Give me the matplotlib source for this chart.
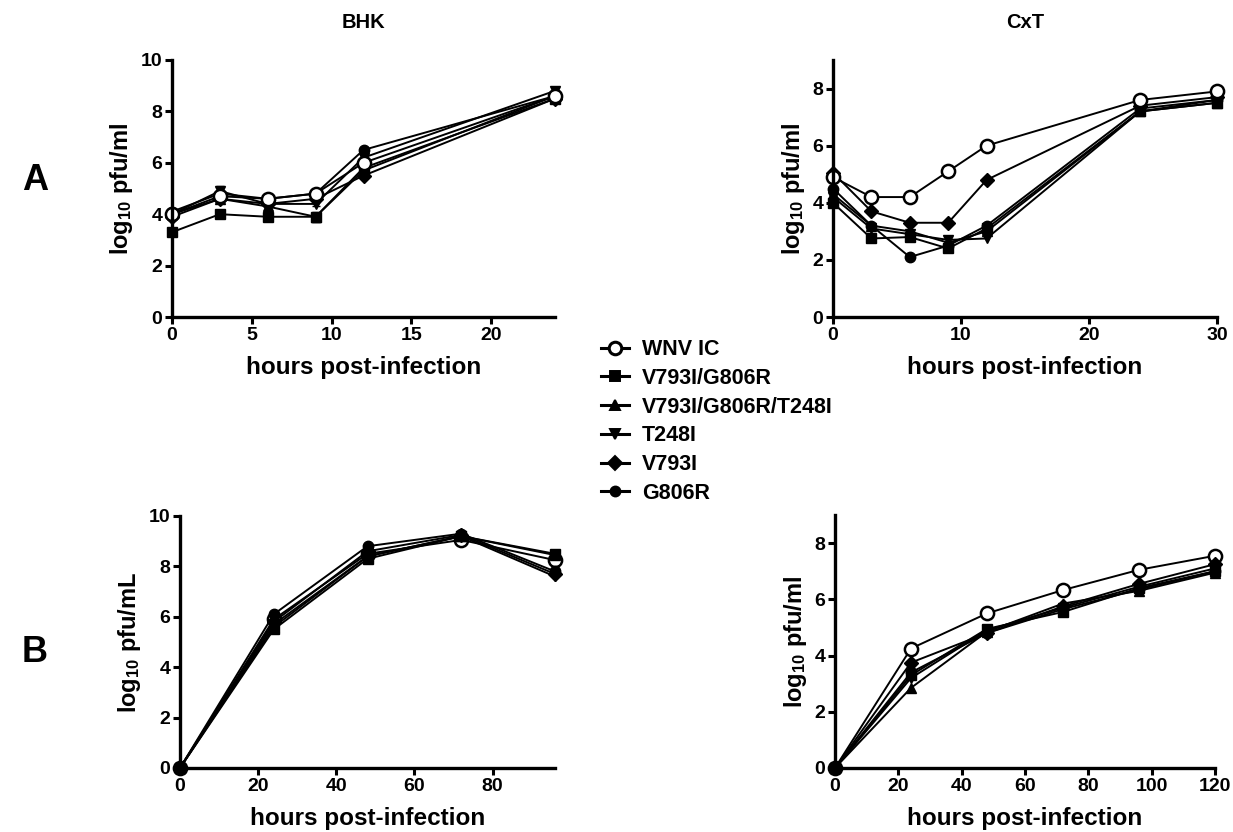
import matplotlib
matplotlib.use("Agg")
import matplotlib.pyplot as plt
from matplotlib.lines import Line2D

plt.rcParams['font.family'] = ['Liberation Sans', 'DejaVu Sans']
plt.rcParams['font.weight'] = 'bold'
plt.rcParams['mathtext.fontset'] = 'custom'
plt.rcParams['mathtext.rm'] = 'Liberation Sans:bold'
plt.rcParams['mathtext.it'] = 'Liberation Sans:bold'
plt.rcParams['mathtext.bf'] = 'Liberation Sans:bold'
plt.rcParams['mathtext.default'] = 'rm'

# ---------------- data ----------------
series_names = ["WNV IC", "V793I/G806R", "V793I/G806R/T248I", "T248I", "V793I", "G806R"]

# A, BHK
t_a_bhk = [0, 3, 6, 9, 12, 24]
a_bhk = {
    "WNV IC":            [4.0, 4.7, 4.6, 4.8, 6.0, 8.6],
    "V793I/G806R":       [3.3, 4.0, 3.9, 3.9, 5.8, 8.5],
    "V793I/G806R/T248I": [4.0, 4.6, 4.3, 3.9, 5.7, 8.6],
    "T248I":             [4.0, 4.9, 4.4, 4.4, 6.2, 8.8],
    "V793I":             [3.9, 4.6, 4.4, 4.6, 5.5, 8.5],
    "G806R":             [4.1, 4.8, 4.6, 4.8, 6.5, 8.6],
}
a_bhk_err = {
    "WNV IC":            [0.1, 0.1, 0.1, 0.1, 0.1, 0.1],
    "V793I/G806R":       [0.05, 0.05, 0.05, 0.05, 0.1, 0.1],
    "V793I/G806R/T248I": [0.1, 0.1, 0.1, 0.2, 0.1, 0.1],
    "T248I":             [0.1, 0.2, 0.1, 0.1, 0.1, 0.1],
    "V793I":             [0.1, 0.1, 0.1, 0.1, 0.1, 0.1],
    "G806R":             [0.1, 0.1, 0.1, 0.1, 0.1, 0.1],
}

# A, CxT
t_a_cxt = [0, 3, 6, 9, 12, 24, 30]
a_cxt = {
    "WNV IC":            [4.9, 4.2, 4.2, 5.1, 6.0, 7.6, 7.9],
    "V793I/G806R":       [4.0, 2.75, 2.8, 2.4, 3.1, 7.2, 7.5],
    "V793I/G806R/T248I": [4.3, 3.2, 3.0, 2.6, 3.0, 7.2, 7.5],
    "T248I":             [4.2, 3.1, 2.9, 2.7, 2.75, 7.2, 7.6],
    "V793I":             [5.05, 3.7, 3.3, 3.3, 4.8, 7.4, 7.7],
    "G806R":             [4.5, 3.2, 2.1, 2.5, 3.2, 7.3, 7.6],
}

# B, BHK
t_b_bhk = [0, 24, 48, 72, 96]
b_bhk = {
    "WNV IC":            [0, 5.9, 8.5, 9.05, 8.25],
    "V793I/G806R":       [0, 5.5, 8.3, 9.2, 8.5],
    "V793I/G806R/T248I": [0, 5.6, 8.4, 9.2, 8.45],
    "T248I":             [0, 5.7, 8.4, 9.2, 7.6],
    "V793I":             [0, 5.8, 8.6, 9.25, 7.7],
    "G806R":             [0, 6.1, 8.8, 9.3, 7.8],
}

# B, CxT
t_b_cxt = [0, 24, 48, 72, 96, 120]
b_cxt = {
    "WNV IC":            [0, 4.25, 5.5, 6.33, 7.05, 7.55],
    "V793I/G806R":       [0, 3.3, 4.95, 5.55, 6.4, 7.0],
    "V793I/G806R/T248I": [0, 2.85, 4.85, 5.85, 6.3, 6.95],
    "T248I":             [0, 3.2, 4.9, 5.7, 6.45, 7.1],
    "V793I":             [0, 3.75, 4.8, 5.75, 6.55, 7.25],
    "G806R":             [0, 3.4, 4.8, 5.65, 6.35, 7.0],
}

# ---------------- styles ----------------
styles = {
    "WNV IC":            dict(marker='o', mfc='white', ms=9.5, mew=1.8, zorder=5),
    "V793I/G806R":       dict(marker='s', mfc='black', ms=7.5, zorder=3),
    "V793I/G806R/T248I": dict(marker='^', mfc='black', ms=7.5, zorder=3),
    "T248I":             dict(marker='v', mfc='black', ms=7.5, zorder=3),
    "V793I":             dict(marker='D', mfc='black', ms=7, zorder=4),
    "G806R":             dict(marker='o', mfc='black', ms=7.5, zorder=3),
}

W, H = 1233, 832
fig = plt.figure(figsize=(W / 100, H / 100), dpi=100)


def ax_px(l, r, t, b):
    return fig.add_axes([l / W, 1 - b / H, (r - l) / W, (b - t) / H])


def style_axes(ax, xlim, ylim, xticks, yticks, ylabel):
    ax.set_xlim(*xlim)
    ax.set_ylim(*ylim)
    ax.set_xticks(xticks)
    ax.set_yticks(yticks)
    for s in ['top', 'right']:
        ax.spines[s].set_visible(False)
    for s in ['left', 'bottom']:
        ax.spines[s].set_linewidth(2.4)
    ax.tick_params(width=2.2, length=5, labelsize=14, pad=2)
    for lab in ax.get_xticklabels() + ax.get_yticklabels():
        lab.set_fontweight('bold')
    ax.set_xlabel('hours post-infection', fontsize=17.5, fontweight='bold', labelpad=9)
    ax.set_ylabel(ylabel, fontsize=17, fontweight='bold', labelpad=4)
    for sp in ax.spines.values():
        sp.set_zorder(10)


def draw(ax, t, data, err=None, open_on_top=True):
    for name in series_names:
        st = styles[name]
        z = st['zorder'] if open_on_top else 3
        kw = dict(color='black', lw=1.4, marker=st['marker'], mfc=st['mfc'],
                  mec='black', ms=st['ms'], mew=st.get('mew', 1.0),
                  zorder=z, clip_on=False)
        if err is not None:
            ax.errorbar(t, data[name], yerr=err[name], capsize=3, elinewidth=1.4,
                        capthick=1.4, ecolor='black', **kw)
        else:
            ax.plot(t, data[name], **kw)


ax1 = ax_px(172, 555, 60, 317)
draw(ax1, t_a_bhk, a_bhk, a_bhk_err)
style_axes(ax1, (0, 24), (0, 10), [0, 5, 10, 15, 20], [0, 2, 4, 6, 8, 10], 'log$_{10}$ pfu/ml')
ax1.set_title('BHK', fontsize=14.5, fontweight='bold', pad=23)

ax2 = ax_px(833, 1217, 60, 317)
draw(ax2, t_a_cxt, a_cxt)
style_axes(ax2, (0, 30), (0, 9), [0, 10, 20, 30], [0, 2, 4, 6, 8], 'log$_{10}$ pfu/ml')
ax2.set_title('CxT', fontsize=14.5, fontweight='bold', pad=23)

ax3 = ax_px(180, 555, 516, 768)
draw(ax3, t_b_bhk, b_bhk, open_on_top=False)
style_axes(ax3, (0, 96), (0, 10), [0, 20, 40, 60, 80], [0, 2, 4, 6, 8, 10], 'log$_{10}$ pfu/mL')

ax4 = ax_px(835, 1215, 515, 768)
draw(ax4, t_b_cxt, b_cxt, open_on_top=False)
style_axes(ax4, (0, 120), (0, 9), [0, 20, 40, 60, 80, 100, 120], [0, 2, 4, 6, 8], 'log$_{10}$ pfu/ml')

fig.text(22 / W, 1 - 180 / H, 'A', fontsize=26, fontweight='bold', va='center', ha='left')
fig.text(22 / W, 1 - 652 / H, 'B', fontsize=26, fontweight='bold', va='center', ha='left')

handles = []
for name in series_names:
    st = styles[name]
    handles.append(Line2D([0], [0], color='black', lw=2.2, marker=st['marker'],
                          mfc=st['mfc'], mec='black', ms=st['ms'] * 0.95,
                          mew=st.get('mew', 1.0) + 0.4))
leg = fig.legend(handles, series_names, loc='upper left',
                 bbox_to_anchor=(586 / W, 1 - 324 / H), frameon=False,
                 prop=dict(size=15.5, weight='bold'), handlelength=1.3,
                 labelspacing=0.36, handletextpad=0.6, borderpad=0.2)

fig.savefig('out.png', dpi=100)
